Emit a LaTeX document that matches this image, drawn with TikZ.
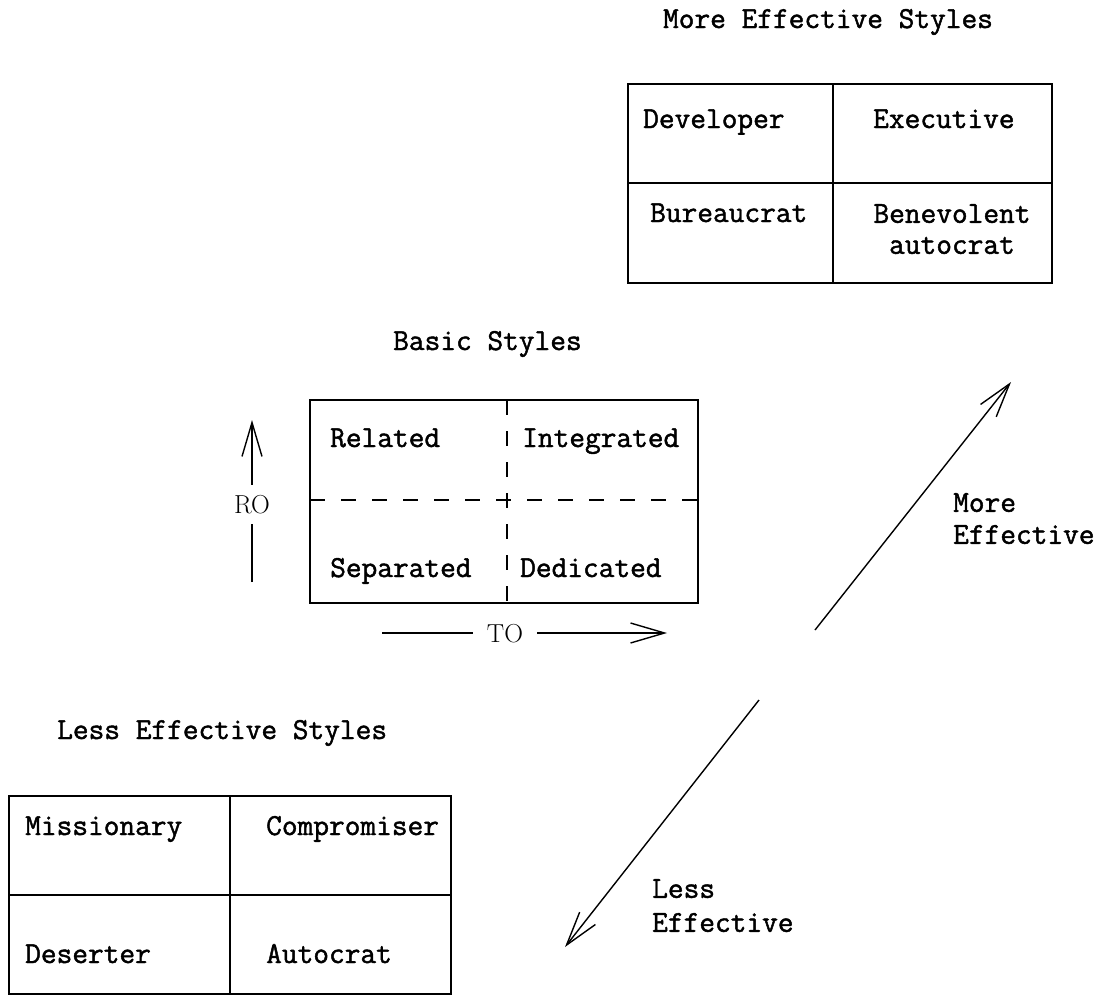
\documentclass[tikz,border=0pt]{standalone}
\usepackage{fontspec}
\setmonofont{Latin Modern Mono}[FakeBold=1.5]
\usetikzlibrary{arrows.meta}
\begin{document}
\begin{tikzpicture}[x=1pt,y=-1pt,
  txt/.style={font=\fontsize{30.5}{34}\selectfont\ttfamily, inner sep=0pt},
  lbl/.style={txt, anchor=base west},
  ttl/.style={txt, anchor=base},
  axislbl/.style={font=\fontsize{26}{28}\selectfont\rmfamily, anchor=base},
  frame/.style={draw, line width=1.6pt, inner sep=0pt},
  divider/.style={line width=1.5pt},
  dashdiv/.style={line width=1.2pt, dash pattern=on 15pt off 16pt},
  arr/.style={line width=1.4pt, -{Straight Barb[length=34pt,width=20pt,line width=1.4pt]}}
]
\useasboundingbox (0,0) rectangle (1110,1004);

% ---------- More Effective Styles ----------
\node[ttl] (tmore) at (828,28) {More Effective Styles};
\node[frame, minimum width=424pt, minimum height=199pt] (topbox) at (840,183.5) {};
\draw[divider] (833,84) -- (833,283);
\draw[divider] (628,183) -- (1052,183);
\node[lbl] (dev) at (643,128) {Developer};
\node[lbl] (exe) at (873,128) {Executive};
\node[lbl] (bur) at (650,222) {Bureaucrat};
\node[txt, font=\fontsize{30.5}{31}\selectfont\ttfamily, align=center, anchor=north] (ben) at (952,204) {Benevolent\\autocrat};

% ---------- Basic Styles ----------
\node[lbl] (tbasic) at (393,350) {Basic Styles};
\node[frame, minimum width=388pt, minimum height=203pt] (midbox) at (504,501.5) {};
\draw[dashdiv] (507,400) -- (507,603);
\draw[dashdiv] (310,500) -- (698,500);
\node[lbl] (rel) at (330,447) {Related};
\node[lbl] (int) at (522,447) {Integrated};
\node[lbl] (sep) at (330,577) {Separated};
\node[lbl] (ded) at (520,577) {Dedicated};

% RO arrow
\node[axislbl, inner xsep=2pt, inner ysep=10pt] (ro) at (252,513) {RO};
\coordinate (robot) at (252,582);
\coordinate (rotop) at (252,420);
\draw[line width=1.3pt] (robot) -- (ro.south);
\draw[arr] (ro.north) -- (rotop);

% TO arrow
\node[axislbl, inner xsep=14pt, inner ysep=2pt] (to) at (505,642) {TO};
\coordinate (toleft) at (382,633);
\coordinate (toright) at (667,633);
\draw[line width=1.3pt] (toleft) -- (toleft -| to.west);
\draw[arr] (toright -| to.east) -- (toright);

% ---------- diagonal arrows ----------
\coordinate (ustart) at (815,630);
\coordinate (utip) at (1011,382);
\draw[arr] (ustart) -- (utip);
\node[txt, font=\fontsize{30.5}{32}\selectfont\ttfamily, align=left, anchor=north west] (moreeff) at (953,493) {More\\Effective};

\coordinate (lstart) at (759,700);
\coordinate (ltip) at (565,947);
\draw[arr] (lstart) -- (ltip);
\node[txt, font=\fontsize{30.5}{34}\selectfont\ttfamily, align=left, anchor=north west] (lesseff) at (652,879) {Less\\Effective};

% ---------- Less Effective Styles ----------
\node[lbl] (tless) at (57,739) {Less Effective Styles};
\node[frame, minimum width=442pt, minimum height=198pt] (botbox) at (230,895) {};
\draw[divider] (230,796) -- (230,994);
\draw[divider] (9,895) -- (451,895);
\node[lbl] (mis) at (25,835) {Missionary};
\node[lbl] (com) at (266,835) {Compromiser};
\node[lbl] (des) at (25,963) {Deserter};
\node[lbl] (aut) at (266,963) {Autocrat};
\end{tikzpicture}
\end{document}
